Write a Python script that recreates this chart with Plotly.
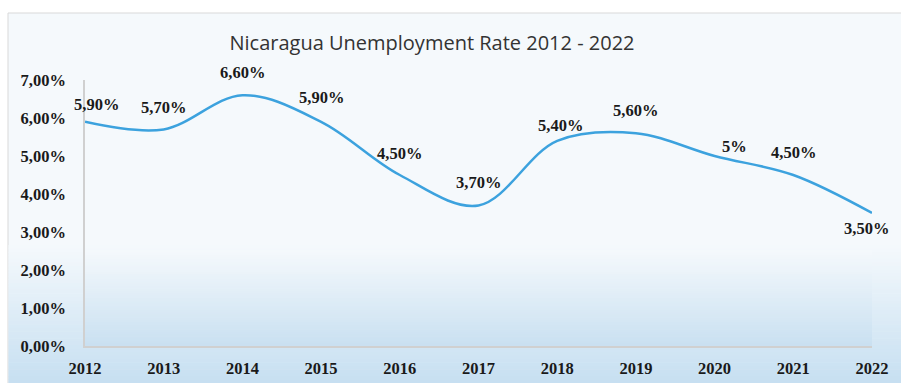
import plotly.graph_objects as go

years = [2012, 2013, 2014, 2015, 2016, 2017, 2018, 2019, 2020, 2021, 2022]
rates = [5.9, 5.7, 6.6, 5.9, 4.5, 3.7, 5.4, 5.6, 5.0, 4.5, 3.5]
labels = ["5,90%", "5,70%", "6,60%", "5,90%", "4,50%", "3,70%", "5,40%", "5,60%", "5%", "4,50%", "3,50%"]
y_ticks = [0, 1, 2, 3, 4, 5, 6, 7]
y_tick_labels = ["0,00%", "1,00%", "2,00%", "3,00%", "4,00%", "5,00%", "6,00%", "7,00%"]
title = "Nicaragua Unemployment Rate 2012 - 2022"

# label offsets (pixels) - style only
label_dx = [11, 0, 0, 0, 0, 0, 3, 0, 20, 0, -6]
label_dy = [17, 22, 23, 24, 22, 23, 15, 23, 10, 23, -15]

W, H = 901, 383
L, R, T, B = 85, 872, 80, 346

def px(x):
    return (x - L) / (R - L)

def py(y):
    return (B - y) / (B - T)

def mix(c1, c2, t):
    return "rgb(%d,%d,%d)" % tuple(round(a + (b - a) * t) for a, b in zip(c1, c2))

shapes = []
# outer card
shapes.append(dict(type="rect", xref="paper", yref="paper", x0=px(8), x1=px(905), y0=py(386), y1=py(13),
                   fillcolor="#F5F9FC", line=dict(color="#D9D9D9", width=1), layer="below"))
top_c = (245, 249, 252)
bot_c = (198, 223, 241)
n = 40
y_start, y_end = 245, 383
for i in range(n):
    a = y_start + (y_end - y_start) * i / n
    b = y_start + (y_end - y_start) * (i + 1) / n
    shapes.append(dict(type="rect", xref="paper", yref="paper", x0=px(8.5), x1=px(905), y0=py(b + 0.5), y1=py(a),
                       fillcolor=mix(top_c, bot_c, (i + 0.5) / n), line=dict(width=0), layer="below"))
# plot area gradient
pa_top, pa_bot = 250, 346
for i in range(n):
    a = pa_top + (pa_bot - pa_top) * i / n
    b = pa_top + (pa_bot - pa_top) * (i + 1) / n
    shapes.append(dict(type="rect", xref="paper", yref="paper", x0=0, x1=1, y0=py(b + 0.3), y1=py(a),
                       fillcolor=mix(top_c, (201, 224, 241), (i + 0.5) / n), line=dict(width=0), layer="below"))

fig = go.Figure()
fig.add_trace(go.Scatter(x=years, y=rates, mode="lines",
                         line=dict(color="#3CA2DE", width=2.5, shape="spline", smoothing=1.0),
                         hoverinfo="skip", showlegend=False))

annotations = []
for x, y, t, dx, dy in zip(years, rates, labels, label_dx, label_dy):
    annotations.append(dict(x=x, y=y, xref="x", yref="y", text=t, showarrow=False,
                            xshift=dx, yshift=dy,
                            font=dict(family="Liberation Serif", size=16.5, color="#1a1a1a", weight="bold")))

fig.update_layout(
    width=W, height=H,
    margin=dict(l=L, r=W - R, t=T, b=H - B, pad=0, autoexpand=False),
    paper_bgcolor="white", plot_bgcolor="rgba(0,0,0,0)",
    title=dict(text=title, xref="container", x=432 / W, xanchor="center", yref="container", y=1 - 43 / H, yanchor="middle",
               font=dict(family="Open Sans", size=20, color="#333333")),
    shapes=shapes,
    annotations=annotations,
    xaxis=dict(range=[2012, 2022], tickvals=years, ticktext=[str(y) for y in years], automargin=False,
               showgrid=False, zeroline=False, showline=True, linecolor="#D0D0D0", linewidth=1.5,
               ticks="outside", ticklen=6, tickcolor="rgba(0,0,0,0)",
               tickfont=dict(family="Liberation Serif", size=16.5, color="#1a1a1a", weight="bold")),
    yaxis=dict(range=[0, 7], tickvals=y_ticks, ticktext=y_tick_labels, automargin=False,
               showgrid=False, zeroline=False, showline=True, linecolor="#D0D0D0", linewidth=1.5,
               ticks="outside", ticklen=14, tickcolor="rgba(0,0,0,0)",
               tickfont=dict(family="Liberation Serif", size=16.5, color="#1a1a1a", weight="bold")),
)

fig.write_html("out.html")
